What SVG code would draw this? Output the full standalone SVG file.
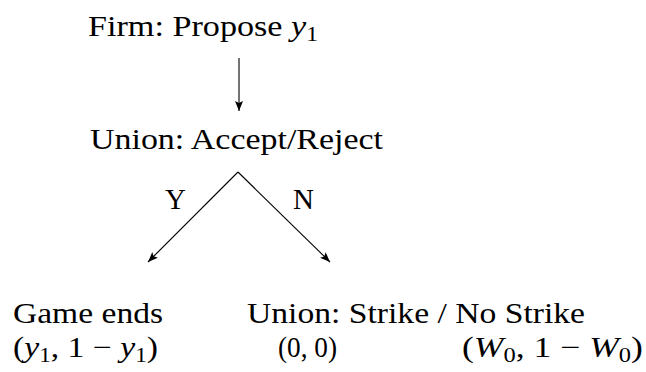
<svg xmlns="http://www.w3.org/2000/svg" width="646" height="372" viewBox="0 0 646 372">
<style>
text{font-family:'Liberation Serif',serif;font-size:29px;fill:#000}
.i{font-style:italic}
.s{font-size:20px}
.c{stroke:#000;stroke-width:1.1;fill:none}
</style>
<defs>
<marker id="ah" viewBox="0 0 10 8" refX="10" refY="4" markerWidth="10" markerHeight="8" markerUnits="userSpaceOnUse" orient="auto">
<path d="M0,0 L10,4 L0,8 L2,4 Z" fill="#000"/>
</marker>
</defs>
<rect width="646" height="372" fill="#fff"/>
<g id="connectors">
<line class="c" x1="239" y1="58" x2="239" y2="111" marker-end="url(#ah)"/>
<line class="c" x1="238" y1="172" x2="148" y2="262" marker-end="url(#ah)"/>
<line class="c" x1="238" y1="172" x2="330" y2="262" marker-end="url(#ah)"/>
<text x="165" y="209" font-family="Liberation Serif">Y</text>
<text x="293" y="209" font-family="Liberation Serif">N</text>
</g>
<g id="firm" font-family="Liberation Serif">
<text x="88" y="36" textLength="230" lengthAdjust="spacingAndGlyphs">Firm: Propose <tspan class="i">y</tspan><tspan class="s" dy="5">1</tspan></text>
</g>
<g id="union1" font-family="Liberation Serif">
<text x="90" y="149" textLength="293" lengthAdjust="spacingAndGlyphs">Union: Accept/Reject</text>
</g>
<g id="gameends" font-family="Liberation Serif">
<text x="13" y="323" textLength="150" lengthAdjust="spacingAndGlyphs">Game ends</text>
<text x="13" y="357" textLength="145" lengthAdjust="spacingAndGlyphs">(<tspan class="i">y</tspan><tspan class="s" dy="5">1</tspan><tspan dy="-5">, 1 − </tspan><tspan class="i">y</tspan><tspan class="s" dy="5">1</tspan><tspan dy="-5">)</tspan></text>
</g>
<g id="union2" font-family="Liberation Serif">
<text x="247" y="323" textLength="338" lengthAdjust="spacingAndGlyphs">Union: Strike / No Strike</text>
<text x="278" y="357" textLength="59" lengthAdjust="spacingAndGlyphs">(0, 0)</text>
<text x="462" y="357" textLength="181" lengthAdjust="spacingAndGlyphs">(<tspan class="i">W</tspan><tspan class="s" dy="5">0</tspan><tspan dy="-5">, 1 − </tspan><tspan class="i">W</tspan><tspan class="s" dy="5">0</tspan><tspan dy="-5">)</tspan></text>
</g>
</svg>
